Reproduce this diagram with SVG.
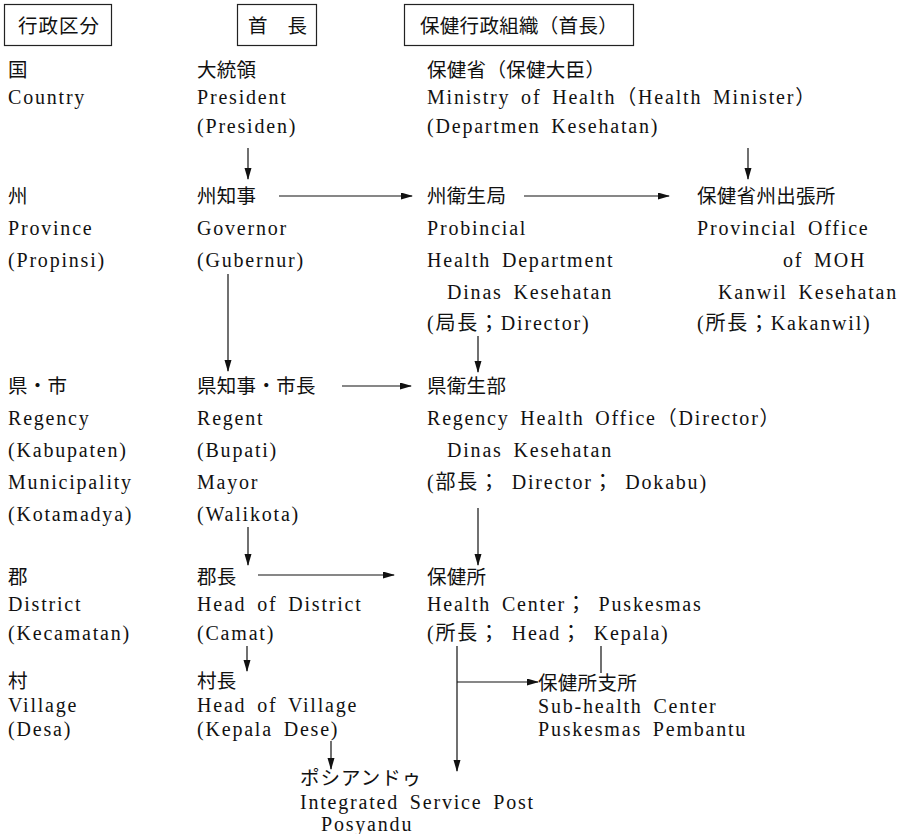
<svg xmlns="http://www.w3.org/2000/svg" width="903" height="834" viewBox="0 0 903 834">
<style>
text { font-family: "Liberation Serif", "Noto Sans CJK JP", serif; font-size: 20px; letter-spacing: 1.8px; word-spacing: 4px; fill: #111; }
text.j { font-size: 19.5px; letter-spacing: 0.3px; word-spacing: 0; }
.hd { fill: none; stroke: #222; stroke-width: 1.2; }
.ln { fill: none; stroke: #111; stroke-width: 1.2; }
</style>
<defs>
<marker id="ah" markerUnits="userSpaceOnUse" markerWidth="12" markerHeight="8" refX="11" refY="3.5" orient="auto">
<path d="M0,0 L12,3.5 L0,7 z" fill="#111"/>
</marker>
</defs>
<rect width="903" height="834" fill="#fff"/>
<g id="header-admin"><rect class="hd" x="4.5" y="4.5" width="107" height="41"/><text class="j" x="18" y="33" style="letter-spacing:1px">行政区分</text></g>
<g id="header-head"><rect class="hd" x="237.5" y="4.5" width="79" height="41"/><text class="j" x="248" y="33">首　長</text></g>
<g id="header-health"><rect class="hd" x="404.5" y="4.5" width="229" height="41"/><text class="j" x="420" y="33">保健行政組織（首長）</text></g>

<g id="country"><text class="j" x="8" y="77">国</text><text x="8" y="104">Country</text></g>
<g id="province"><text class="j" x="8" y="203">州</text><text x="8" y="235">Province</text><text x="8" y="267">(Propinsi)</text></g>
<g id="regency"><text class="j" x="8" y="393">県・市</text><text x="8" y="425">Regency</text><text x="8" y="457">(Kabupaten)</text><text x="8" y="489">Municipality</text><text x="8" y="521">(Kotamadya)</text></g>
<g id="district"><text class="j" x="8" y="584">郡</text><text x="8" y="611">District</text><text x="8" y="640">(Kecamatan)</text></g>
<g id="village"><text class="j" x="8" y="688">村</text><text x="8" y="712">Village</text><text x="8" y="736">(Desa)</text></g>

<g id="president"><text class="j" x="197" y="77">大統領</text><text x="197" y="104">President</text><text x="197" y="133">(Presiden)</text></g>
<g id="governor"><text class="j" x="197" y="203">州知事</text><text x="197" y="235">Governor</text><text x="197" y="267">(Gubernur)</text></g>
<g id="regent"><text class="j" x="197" y="393">県知事・市長</text><text x="197" y="425">Regent</text><text x="197" y="457">(Bupati)</text><text x="197" y="489">Mayor</text><text x="197" y="521">(Walikota)</text></g>
<g id="camat"><text class="j" x="197" y="584">郡長</text><text x="197" y="611">Head of District</text><text x="197" y="640">(Camat)</text></g>
<g id="village-head"><text class="j" x="197" y="688">村長</text><text x="197" y="712">Head of Village</text><text x="197" y="736">(Kepala Dese)</text></g>

<g id="ministry"><text class="j" x="427" y="77">保健省（保健大臣）</text><text x="427" y="104">Ministry of Health（Health Minister）</text><text x="427" y="133">(Departmen Kesehatan)</text></g>
<g id="prov-health"><text class="j" x="427" y="203">州衛生局</text><text x="427" y="235">Probincial</text><text x="427" y="267">Health Department</text><text x="447" y="299">Dinas Kesehatan</text><text x="427" y="330">(局長；Director)</text></g>
<g id="prov-office"><text class="j" x="697" y="203">保健省州出張所</text><text x="697" y="235">Provincial Office</text><text x="783" y="267">of MOH</text><text x="718" y="299">Kanwil Kesehatan</text><text x="697" y="330">(所長；Kakanwil)</text></g>
<g id="regency-health"><text class="j" x="427" y="393">県衛生部</text><text x="427" y="425">Regency Health Office（Director）</text><text x="447" y="457">Dinas Kesehatan</text><text x="427" y="489">(部長； Director； Dokabu)</text></g>
<g id="health-center"><text class="j" x="427" y="584">保健所</text><text x="427" y="611">Health Center； Puskesmas</text><text x="427" y="640">(所長； Head； Kepala)</text></g>
<g id="sub-health"><text class="j" x="538" y="690">保健所支所</text><text x="538" y="713">Sub-health Center</text><text x="538" y="736">Puskesmas Pembantu</text></g>
<g id="posyandu"><text class="j" x="300" y="785" style="letter-spacing:1px">ポシアンドゥ</text><text x="300" y="809">Integrated Service Post</text><text x="321" y="831">Posyandu</text></g>

<g id="connectors">
<path class="ln" marker-end="url(#ah)" d="M248,148 V179"/>
<path class="ln" marker-end="url(#ah)" d="M748,148 V179"/>
<path class="ln" marker-end="url(#ah)" d="M279,196 H412"/>
<path class="ln" marker-end="url(#ah)" d="M524,196 H669"/>
<path class="ln" marker-end="url(#ah)" d="M228,274 V371"/>
<path class="ln" marker-end="url(#ah)" d="M478,336 V372"/>
<path class="ln" marker-end="url(#ah)" d="M342,386 H411"/>
<path class="ln" marker-end="url(#ah)" d="M248,527 V565"/>
<path class="ln" marker-end="url(#ah)" d="M478,508 V565"/>
<path class="ln" marker-end="url(#ah)" d="M258,575 H394"/>
<path class="ln" marker-end="url(#ah)" d="M247,646 V671"/>
<path class="ln" marker-end="url(#ah)" d="M457,646 V771"/>
<path class="ln" marker-end="url(#ah)" d="M457,682 H538"/>
<path class="ln" d="M601,646 V673"/>
<path class="ln" marker-end="url(#ah)" d="M331,741 V769"/>
</g>
</svg>
